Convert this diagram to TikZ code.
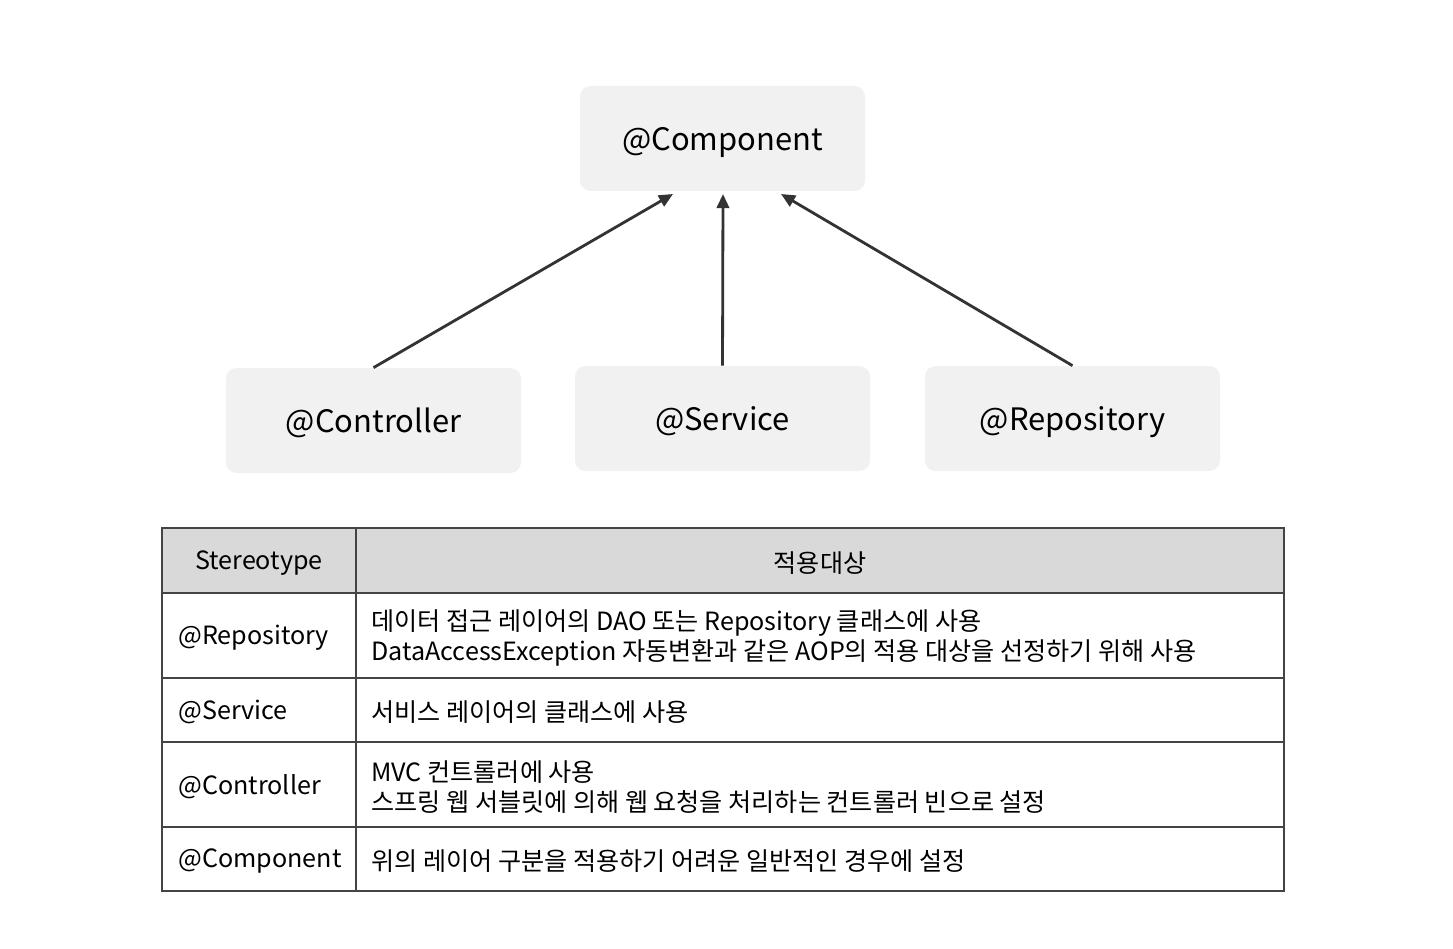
\documentclass[tikz,border=0pt]{standalone}
\usepackage{fontspec}
\setmainfont{Noto Sans CJK KR}
\usetikzlibrary{arrows.meta}

\definecolor{boxfill}{HTML}{F1F1F1}
\definecolor{headfill}{HTML}{D9D9D9}
\definecolor{arrowgray}{HTML}{333333}
\definecolor{gridgray}{HTML}{444444}

\tikzset{
  stereo/.style={draw=none, fill=boxfill, rounded corners=6pt,
    minimum width=295*0.02cm, minimum height=105*0.02cm,
    text depth=0pt, font=\fontsize{17.6}{20}\selectfont},
  extends/.style={draw=arrowgray, line width=1.6pt,
    -{Triangle[length=8pt,width=7pt]}},
  cell/.style={anchor=west, align=left,
    font=\fontsize{14.3}{17}\selectfont, inner sep=0pt},
  grid/.style={draw=gridgray, line width=1.1pt}
}

\begin{document}
\begin{tikzpicture}[x=0.02cm, y=-0.02cm]

      % Batas gambar
      \useasboundingbox (0,0) rectangle (1453,949);

      % Kotak anotasi
      \node[stereo, minimum width=285*0.02cm] (comp) at (722.5,138.5) {@Component};
      \node[stereo] (ctrl) at (373.5,420.5) {@Controller};
      \node[stereo] (svc)  at (722.5,418.5) {@Service};
      \node[stereo] (repo) at (1072.5,418.5) {@Repository};

      % Ujung panah
      \coordinate (tipL) at (673,194);
      \coordinate (tipM) at (723,194);
      \coordinate (tipR) at (781,194);

      % Panah pewarisan
      \draw[extends] (ctrl.north) -- (tipL);
      \draw[extends] (svc.north) -- (tipM);
      \draw[extends] (repo.north) -- (tipR);

      % Tabel
      \fill[headfill] (162,528) rectangle (1284,593);
      \draw[grid] (162,528) rectangle (1284,891);
      \draw[grid] (356,528) -- (356,891);
      \foreach \y in {593,678,742,827}
        \draw[grid] (162,\y) -- (1284,\y);

      % Judul kolom
      \node[cell, anchor=center] (hstereo) at (259,563) {Stereotype};
      \node[cell, anchor=center] (htarget) at (820,563) {적용대상};

      % Isi tabel
      \node[cell] (krepo) at (178,638) {@Repository};
      \node[cell] (vrepo) at (371,638) {데이터 접근 레이어의 DAO 또는 Repository 클래스에 사용\\DataAccessException 자동변환과 같은 AOP의 적용 대상을 선정하기 위해 사용};

      \node[cell] (ksvc) at (178,712) {@Service};
      \node[cell] (vsvc) at (371,712) {서비스 레이어의 클래스에 사용};

      \node[cell] (kctrl) at (178,787) {@Controller};
      \node[cell] (vctrl) at (371,787) {MVC 컨트롤러에 사용\\스프링 웹 서블릿에 의해 웹 요청을 처리하는 컨트롤러 빈으로 설정};

      \node[cell] (kcomp) at (178,861) {@Component};
      \node[cell] (vcomp) at (371,861) {위의 레이어 구분을 적용하기 어려운 일반적인 경우에 설정};

    \end{tikzpicture}
\end{document}
